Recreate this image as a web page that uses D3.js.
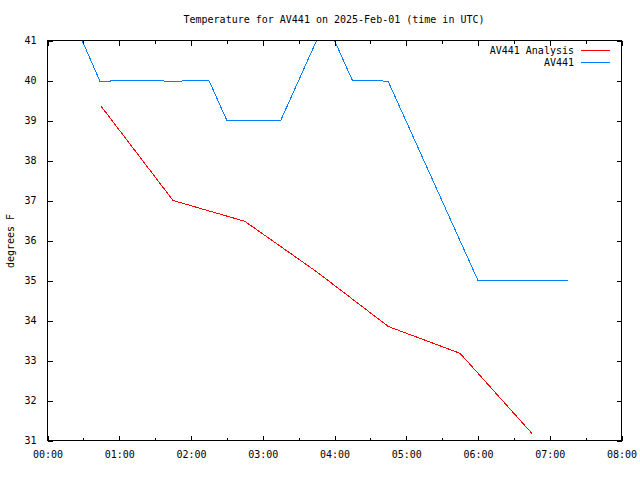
<!DOCTYPE html>
<html>
<head>
<meta charset="utf-8">
<script src="https://cdn.jsdelivr.net/npm/d3@7"></script>
<style>
  html, body { margin: 0; padding: 0; background: #fff; }
  svg { display: block; }
  text { font-family: "DejaVu Sans Mono", "Liberation Mono", monospace; font-size: 10px; fill: #000; }
</style>
</head>
<body>
<script>
// ---- data ----
const obsTimes  = ["00:29","00:44","00:52","00:53","01:37","01:38","01:52","01:53","02:15","02:30","03:15","03:45","04:00","04:15","04:37","04:45","06:00","07:15"];
const obsValues = [41.0, 39.97, 39.97, 40.0, 40.0, 39.97, 39.97, 40.0, 40.0, 39.0, 39.0, 41.0, 41.0, 40.0, 40.0, 39.97, 35.0, 35.0];
const anaTimes  = ["00:45","01:45","02:45","03:45","04:45","05:45","06:45"];
const anaValues = [39.35, 37.0, 36.48, 35.22, 33.85, 33.18, 31.18];
const yTicks = [31, 32, 33, 34, 35, 36, 37, 38, 39, 40, 41];
const xTickHours = [0, 1, 2, 3, 4, 5, 6, 7, 8];
const seriesNames = ["AV441 Analysis", "AV441"];
const seriesColors = ["#ff0000", "#0080ff"];
const titleText = "Temperature for AV441 on 2025-Feb-01 (time in UTC)";
const yLabel = "degrees F";

// ---- layout ----
const W = 640, H = 480;
const mL = 47, mR = 621, mT = 40, mB = 440;
const day = "2025-02-01";
const parseT = s => new Date(day + "T" + s + ":00Z");

const x = d3.scaleUtc().domain([parseT("00:00"), parseT("08:00")]).range([mL, mR]);
const y = d3.scaleLinear().domain([31, 41]).range([mB, mT]);

const svg = d3.select("body").append("svg").attr("width", W).attr("height", H);

svg.append("clipPath").attr("id", "clip")
  .append("rect").attr("x", mL).attr("y", mT).attr("width", mR - mL).attr("height", mB - mT + 1);

// data lines first, frame drawn over them
const line = d3.line().x(d => x(d[0]) + 0.5).y(d => y(d[1]) + 0.5);
const series = [
  anaTimes.map((t, i) => [parseT(t), anaValues[i]]),
  obsTimes.map((t, i) => [parseT(t), obsValues[i]])
];
const plotG = svg.append("g").attr("clip-path", "url(#clip)");
series.forEach((s, i) => {
  plotG.append("path").datum(s).attr("d", line)
    .attr("fill", "none").attr("stroke", seriesColors[i]).attr("stroke-width", 1)
    .attr("shape-rendering", "crispEdges");
});

const majorTimes = xTickHours.map(h => parseT(String(h).padStart(2, "0") + ":00"));
const minorTimes = xTickHours.slice(0, -1).map(h => parseT(String(h).padStart(2, "0") + ":30"));
const fmt = d3.utcFormat("%H:%M");

const axisG = svg.append("g").attr("shape-rendering", "crispEdges");
const axB = d3.axisBottom(x).tickValues(majorTimes).tickFormat(fmt).tickSizeInner(-5).tickSizeOuter(0).tickPadding(10);
const bAx = axisG.append("g").attr("transform", `translate(0.5,${mB + 0.5})`).call(axB);
bAx.selectAll("text").attr("dy", "0.71em");
const axBm = d3.axisBottom(x).tickValues(minorTimes).tickFormat("").tickSizeInner(-3).tickSizeOuter(0);
axisG.append("g").attr("transform", `translate(0.5,${mB + 0.5})`).call(axBm);
const axT = d3.axisTop(x).tickValues(majorTimes).tickFormat("").tickSizeInner(-5).tickSizeOuter(0);
axisG.append("g").attr("transform", `translate(0.5,${mT + 0.5})`).call(axT);
const axTm = d3.axisTop(x).tickValues(minorTimes).tickFormat("").tickSizeInner(-3).tickSizeOuter(0);
axisG.append("g").attr("transform", `translate(0.5,${mT + 0.5})`).call(axTm);
const axL = d3.axisLeft(y).tickValues(yTicks).tickFormat(d3.format("d")).tickSizeInner(-5).tickSizeOuter(0).tickPadding(11);
axisG.append("g").attr("transform", `translate(${mL + 0.5},0.5)`).call(axL);
const axR = d3.axisRight(y).tickValues(yTicks).tickFormat("").tickSizeInner(-5).tickSizeOuter(0);
axisG.append("g").attr("transform", `translate(${mR + 0.5},0.5)`).call(axR);
axisG.selectAll(".domain").remove();
axisG.selectAll("line").attr("stroke", "#000");
axisG.selectAll("text").attr("font-family", "DejaVu Sans Mono").attr("font-size", 10).attr("fill", "#000");

axisG.append("rect").attr("x", mL + 0.5).attr("y", mT + 0.5).attr("width", mR - mL).attr("height", mB - mT)
  .attr("fill", "none").attr("stroke", "#000");

svg.append("text").attr("x", (mL + mR) / 2).attr("y", 23).attr("text-anchor", "middle").text(titleText);

svg.append("text").attr("transform", "translate(14,241) rotate(-90)").attr("text-anchor", "middle").text(yLabel);

seriesNames.forEach((n, i) => {
  const ly = 50 + i * 12;
  svg.append("text").attr("x", 574).attr("y", ly + 4).attr("text-anchor", "end").text(n);
  svg.append("line").attr("x1", 581).attr("x2", 610).attr("y1", ly + 0.5).attr("y2", ly + 0.5)
    .attr("stroke", seriesColors[i]).attr("shape-rendering", "crispEdges");
});
</script>
</body>
</html>
